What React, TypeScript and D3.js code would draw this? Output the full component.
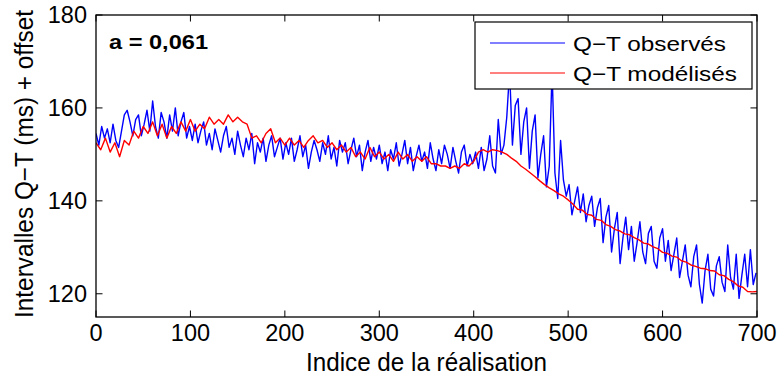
import React from "react";
import * as d3 from "d3";

const WIDTH = 779;
const HEIGHT = 382;

const xTicks = [0, 100, 200, 300, 400, 500, 600, 700];
const yTicks = [120, 140, 160, 180];
const xDomain = [0, 700];
const yDomain = [115, 180];

// observed Q-T, one value every 3 samples (0, 3, ..., 699)
const BLUE_STEP = 3;
const observed = [
  154.5, 152, 156, 153.5, 155.5, 152.5, 156.5, 153, 151.5, 155, 158.5, 159.5, 157, 154, 157.5, 158.5, 154, 156.5, 159.5, 155, 161.5, 156, 153.5, 159, 157, 153.5, 158.5, 155, 160, 154, 157, 159, 153.5, 156,
  153, 156.5, 152.5, 155, 157, 152, 154.5, 151, 155.5, 153, 150.5, 154, 156, 151.5, 153.5, 150, 155, 152, 149.5, 153.5, 151, 154.5, 148, 152.5, 150.5, 153.5, 148.5, 152, 154, 149.5, 151.5, 153.5, 149,
  152.5, 150, 153.5, 148.5, 151, 154, 149.5, 152, 147, 150.5, 153, 151, 148.5, 152.5, 150, 154, 149, 151.5, 147.5, 153, 150.5, 152.5, 148, 151, 153.5, 149.5, 152, 146.5, 150.5, 153, 148.5, 151.5, 149,
  152, 148, 150.5, 146.5, 151, 149, 152.5, 147.5, 150, 153, 148, 151.5, 146.5, 149.5, 152, 148.5, 150.5, 147, 152.5, 149, 146.5, 151, 148, 152, 150, 147, 151.5, 148.5, 146, 150.5, 152, 147.5, 150, 148,
  150.5, 147, 151.5, 146.5, 149, 154, 147.5, 146, 157.5, 150, 152, 158, 168, 152, 160.5, 162, 150, 157, 160, 147, 155, 158.5, 145, 150, 154, 143, 147.5, 168, 146, 140.5, 153, 144.5, 141,
  143.5, 137, 140, 143, 137.5, 141.5, 135.5, 139, 141, 134.5, 138.5, 140.5, 131, 136.5, 139, 129, 134, 137.5, 126.5, 132, 136.5, 129.5, 134.5, 127, 131, 135.5, 129, 126.5, 133, 134.5, 127, 125.5, 132,
  134, 127, 131.5, 125, 128.5, 132, 123.5, 127, 130.5, 124, 121.5, 128, 130.5, 122, 118, 125, 128.5, 121, 119.5, 126, 128, 122.5, 120.5, 130.5, 123.5, 121, 128.5, 119, 124, 128.5, 121.5, 129.5, 122, 124.5,
];

// modelled Q-T, one value every 5 samples (0, 5, ..., 700)
const RED_STEP = 5;
const modeled = [
  152.5, 151, 153.5, 150.5, 152.5, 149.5, 153, 152, 155, 153.5, 156, 154.5, 157, 154, 156.5, 153.5, 156, 154.5, 157, 155,
  157.5, 155, 156.5, 155.5, 158, 156.5, 157.5, 156.5, 158.5, 157, 158, 157, 156.5, 153.5, 154, 152.5, 154.5, 155.5, 152.5, 153.5,
  152, 153.5, 152, 153, 151.5, 153, 154, 152.5, 153, 151.5, 152.5, 151, 152, 150.5, 151.5, 149.5, 150.5, 149, 151.5, 149.5,
  150.5, 149, 150, 148.5, 150.5, 149, 150, 148.5, 149.5, 148.5, 149.5, 148, 148, 147.5, 147.5, 147, 147.5, 147, 148, 147.5,
  148.5, 150.5, 151, 150.5, 151, 150.8, 150.5, 150, 149.2, 148.5, 147.5, 146.8, 146, 145.2, 144.3, 143.5, 142.8, 142.2, 141.5, 141,
  140.2, 139.3, 138.2, 138, 137.1, 136.9, 136, 135.8, 134.9, 134.5, 133.8, 133.5, 132.9, 132.7, 132.1, 131.6, 130.9, 130.7, 130.1, 129.7,
  128.9, 128.7, 128.1, 127.9, 127.1, 126.8, 126.2, 125.9, 125.5, 125.4, 125, 124.9, 124.1, 123.9, 123.1, 122.6, 121.7, 121.4, 120.5, 120.4, 120.5,
];

const legendLabels = ["Q\u2212T observés", "Q\u2212T modélisés"];
const seriesColors = ["#0000ff", "#ff0000"];
const annotation = "a = 0,061";
const xLabel = "Indice de la réalisation";
const yLabel = "Intervalles Q\u2212T (ms) + offset";

const FONT = "'Liberation Sans', Arial, Helvetica, sans-serif";

export default function App() {
  const left = 96, right = 757, top = 15, bottom = 317;
  const x = d3.scaleLinear().domain(xDomain).range([left, right]);
  const y = d3.scaleLinear().domain(yDomain).range([bottom, top]);

  const line = d3
    .line<[number, number]>()
    .x((d) => x(d[0]))
    .y((d) => y(d[1]));

  const blueData: [number, number][] = observed.map((v, i) => [i * BLUE_STEP, v]);
  const redData: [number, number][] = modeled.map((v, i) => [i * RED_STEP, v]);

  const tickLen = 6.5;
  const tickFs = 23.5;

  return (
    <div style={{ position: "fixed", left: 0, top: 0, width: WIDTH, height: HEIGHT, background: "#fff" }}>
      <svg width={WIDTH} height={HEIGHT} style={{ display: "block" }} fontFamily={FONT}>
        <rect x={0} y={0} width={WIDTH} height={HEIGHT} fill="#fff" />
        <defs>
          <clipPath id="plotClip">
            <rect x={left} y={top} width={right - left} height={bottom - top} />
          </clipPath>
        </defs>
        <g clipPath="url(#plotClip)">
          <path d={line(blueData) || ""} fill="none" stroke={seriesColors[0]} strokeWidth={1.4} strokeLinejoin="round" />
          <path d={line(redData) || ""} fill="none" stroke={seriesColors[1]} strokeWidth={1.4} strokeLinejoin="round" />
        </g>
        {xTicks.map((t) => (
          <g key={"xt" + t}>
            <line x1={x(t)} x2={x(t)} y1={bottom} y2={bottom - tickLen} stroke="#000" strokeWidth={1} />
            <line x1={x(t)} x2={x(t)} y1={top} y2={top + tickLen} stroke="#000" strokeWidth={1} />
            <text x={x(t)} y={341} textAnchor="middle" fontSize={tickFs} fill="#000">
              {t}
            </text>
          </g>
        ))}
        {yTicks.map((t) => (
          <g key={"yt" + t}>
            <line x1={left} x2={left + tickLen} y1={y(t)} y2={y(t)} stroke="#000" strokeWidth={1} />
            <line x1={right} x2={right - tickLen} y1={y(t)} y2={y(t)} stroke="#000" strokeWidth={1} />
            <text x={87} y={y(t) + 0.358 * tickFs} textAnchor="end" fontSize={tickFs} fill="#000">
              {t}
            </text>
          </g>
        ))}
        <rect x={left} y={top} width={right - left} height={bottom - top} fill="none" stroke="#000" strokeWidth={1.3} />
        <text x={109} y={49} fontSize={20} fontWeight="bold" fill="#000" textLength={99} lengthAdjust="spacingAndGlyphs">
          {annotation}
        </text>
        <rect x={475} y={22} width={277} height={67} fill="#fff" stroke="#000" strokeWidth={1.2} />
        {legendLabels.map((lab, i) => {
          const ly = 43 + i * 30;
          return (
            <g key={lab}>
              <line x1={490} x2={565} y1={ly} y2={ly} stroke={seriesColors[i]} strokeWidth={1.2} />
              <text x={573} y={ly + 7.5} fontSize={21} fill="#000" textLength={i === 0 ? 153 : 164} lengthAdjust="spacingAndGlyphs">
                {lab}
              </text>
            </g>
          );
        })}
        <text x={(left + right) / 2} y={370.5} textAnchor="middle" fontSize={25} fill="#000" textLength={241} lengthAdjust="spacingAndGlyphs">
          {xLabel}
        </text>
        <text
          transform={`translate(33, 164) rotate(-90)`}
          textAnchor="middle"
          fontSize={25}
          fill="#000"
          textLength={308}
          lengthAdjust="spacingAndGlyphs"
        >
          {yLabel}
        </text>
      </svg>
    </div>
  );
}
